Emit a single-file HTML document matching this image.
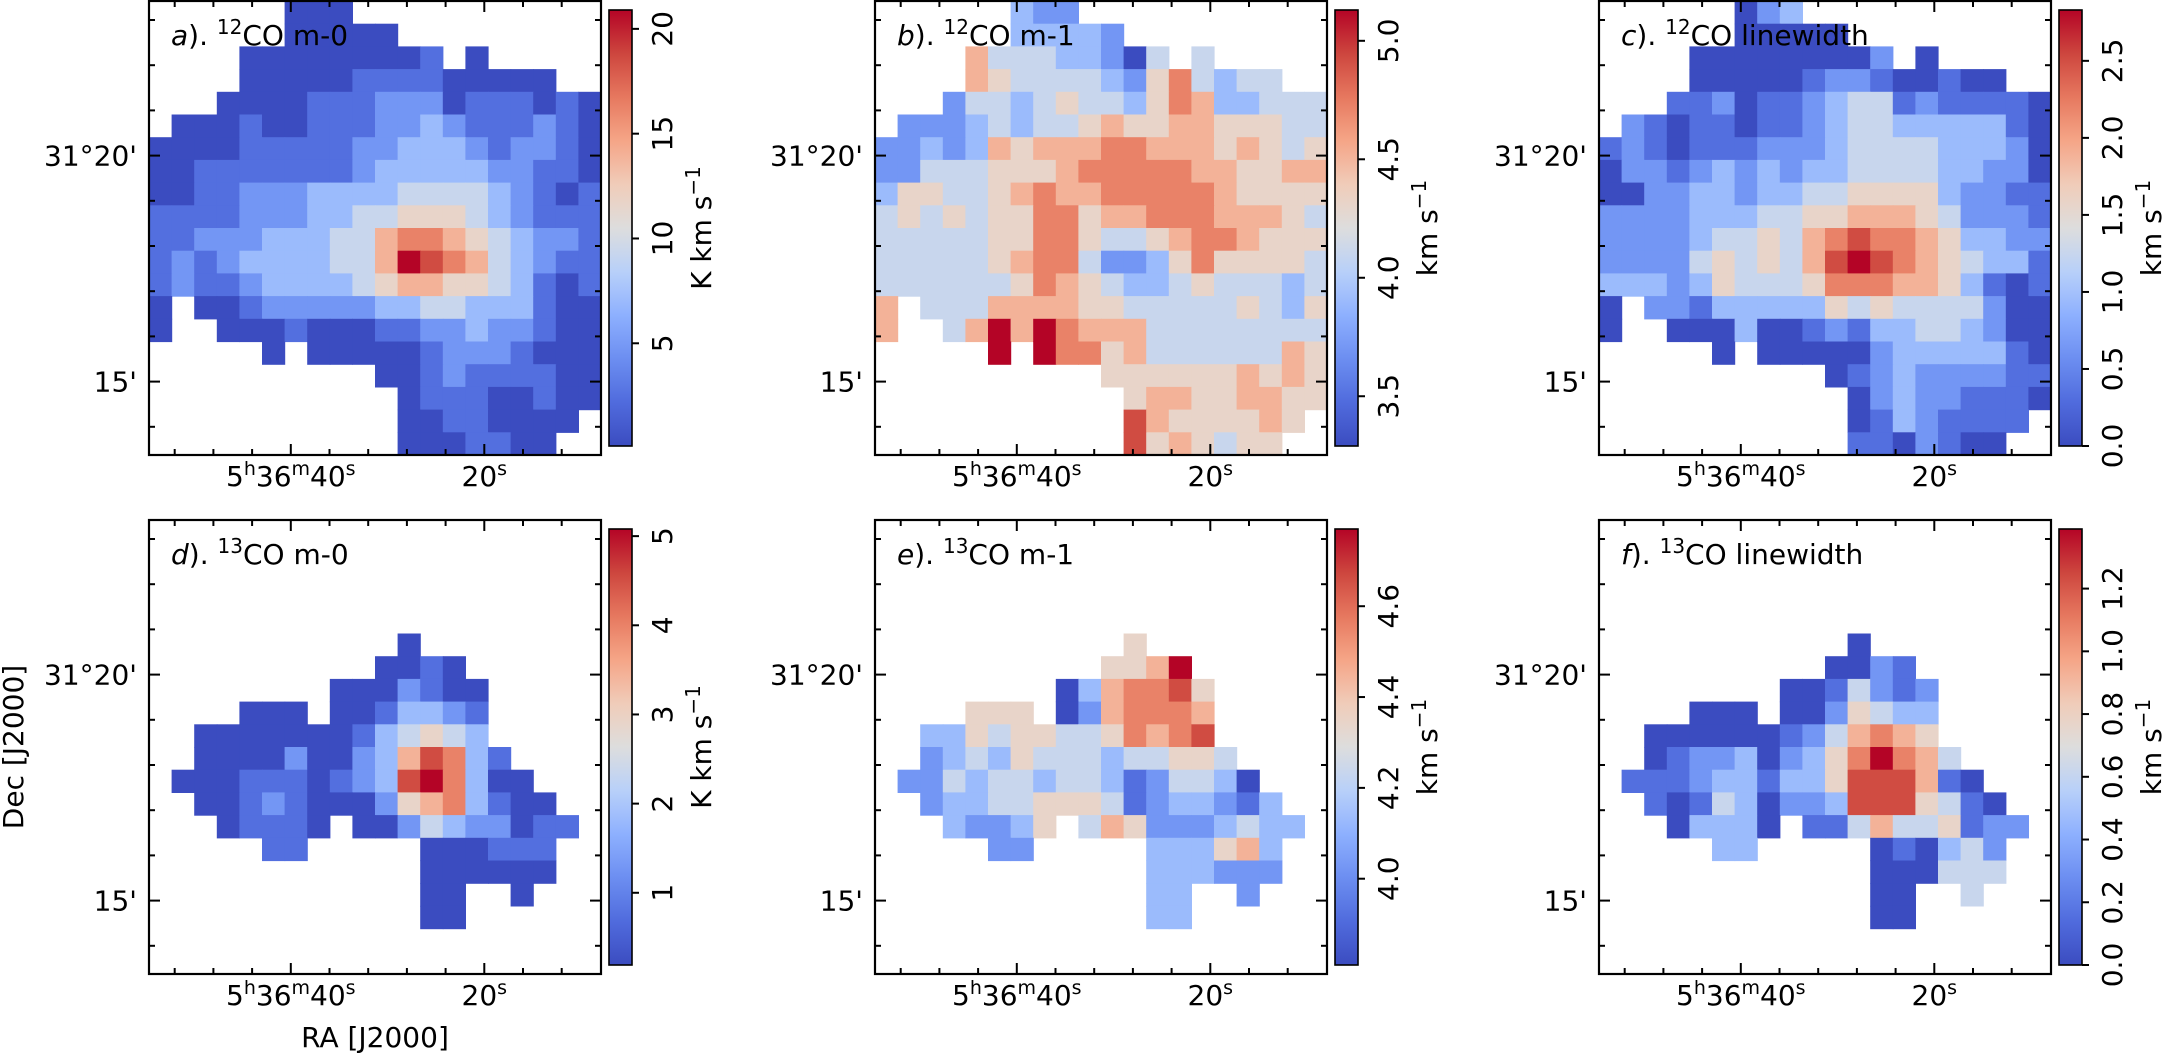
<!DOCTYPE html>
<html><head><meta charset="utf-8"><style>
html,body{margin:0;padding:0;background:#fff;}
svg{display:block;font-family:"DejaVu Sans","Liberation Sans",sans-serif;}
</style></head><body>
<svg id="fig" width="2167" height="1055" viewBox="0 0 2167 1055" xmlns="http://www.w3.org/2000/svg"></svg>
<script>
// ---- data (digit levels 0-9 of colour range, '.' = no data) ----
const mapA = ["......000...........","......00000.........","....000000001.0.....","....00000111100000..","...00001112220111010",".0001001112232111210","00001111122333212210","00111111123333322110","00112223333444432101","11112223344555432111","11222333446776543221","12123333446987643211","12112333345665543101","0.001222223344333100","0..00010001122322100",".....0.0000012221000","..........0012111100","...........011100100","...........00110000.","...........0001100.."];
const mapB = ["......322...........","......33332.........","....644433204.4.....","....65444432574344..","...24434544357633444",".2223434456556655544","22323656667766656545","22444555677777665566","35544567667777765555","45454557756677766654","44444557754456776555","44444567742235755554","44444457654334544434","6.444666655444445435","6..46969766644444444",".....9.9775644444465","..........5555556565","...........566556655","...........86555565.","...........8565455.."];
const mapC = ["......023...........","......00000.........","....000000002.0.....","....00000122100100..","...11201123441211110",".2101101123443333310","12101112223444433320","02212323233444433220","00223323344555532211","22223334455666542221","22223445467877653322","22224545468987654331","33323544457776653101","0.221333335454444200","0..00030012133443200",".....0.0000023333310","..........0123222211","...........023221110","...........01321111.","...........1102100.."];
const mapD = ["....................","....................","....................","....................","....................","...........0........","..........0010......","........0002100.....","....000.0013321.....","..0000000134543.....","..00002002368731....",".0001110123897300...","..0012100025673100..","...01110.0024322011.",".....11.....000111..","............000000..","............00..0...","............00......","....................","...................."];
const mapE = ["....................","....................","....................","....................","....................","...........5........","..........5569......","........0367785.....","....555.0267776.....","..3354554457678.....","..23435444344554....",".2243443443124430...","..2334455541233213..","...32235.4652223433.",".....22.....333563..","............333222..","............33..2...","............33......","....................","...................."];
const mapF = ["....................","....................","....................","....................","....................","...........0........","..........0021......","........0014212.....","....000.0025433.....","..0000001246765.....","..01223023579764....",".1112331335888610...","..1014302238885410..","...03330.1146445122.",".....33.....010342..","............000444..","............00..4...","............00......","....................","...................."];
// colour ranges
const vminArr = [0.1, 3.29, 0.0, 0.19, 3.81, 0.0];
const vmaxArr = [20.9, 5.13, 2.83, 5.08, 4.77, 1.39];
// colourbar ticks
const ticksA = [5, 10, 15, 20];
const ticksB = [3.5, 4.0, 4.5, 5.0];
const ticksC = [0.0, 0.5, 1.0, 1.5, 2.0, 2.5];
const ticksD = [1, 2, 3, 4, 5];
const ticksE = [4.0, 4.2, 4.4, 4.6];
const ticksF = [0.0, 0.2, 0.4, 0.6, 0.8, 1.0, 1.2];
const tickLabelsA = ["5","10","15","20"];
const tickLabelsB = ["3.5","4.0","4.5","5.0"];
const tickLabelsC = ["0.0","0.5","1.0","1.5","2.0","2.5"];
const tickLabelsD = ["1","2","3","4","5"];
const tickLabelsE = ["4.0","4.2","4.4","4.6"];
const tickLabelsF = ["0.0","0.2","0.4","0.6","0.8","1.0","1.2"];
const panelLetters = ["a","b","c","d","e","f"];
const panelIso = ["12","12","12","13","13","13"];
const panelNames = ["CO m-0","CO m-1","CO linewidth","CO m-0","CO m-1","CO linewidth"];
const units = ["K km s","km s","km s","K km s","km s","km s"];

const NS = "http://www.w3.org/2000/svg";
const svg = document.getElementById('fig');
function el(tag, attrs, parent){ const e=document.createElementNS(NS,tag); for(const k in attrs) e.setAttribute(k,attrs[k]); (parent||svg).appendChild(e); return e; }

const cmStops = [[0,[59,76,192]],[0.1,[80,107,221]],[0.2,[108,142,241]],[0.3,[141,176,254]],[0.4,[184,208,249]],[0.5,[221,221,221]],[0.6,[240,204,185]],[0.7,[245,165,135]],[0.8,[230,120,95]],[0.9,[205,70,62]],[1,[180,4,38]]];
function cmap(t){ t=Math.max(0,Math.min(1,t)); for(let i=1;i<cmStops.length;i++){ if(t<=cmStops[i][0]){ const a=cmStops[i-1],b=cmStops[i]; const f=(t-a[0])/(b[0]-a[0]); const c=a[1].map((v,j)=>Math.round(v+(b[1][j]-v)*f)); return `rgb(${c[0]},${c[1]},${c[2]})`; } } return 'rgb(180,4,38)'; }

const defs = el('defs',{});
const grad = el('linearGradient',{id:'cw',x1:'0',y1:'1',x2:'0',y2:'0'},defs);
for(let i=0;i<=20;i++){ el('stop',{offset:(i/20),'stop-color':cmap(i/20)},grad); }

const maps=[mapA,mapB,mapC,mapD,mapE,mapF];
const ticksAll=[ticksA,ticksB,ticksC,ticksD,ticksE,ticksF];
const tlabAll=[tickLabelsA,tickLabelsB,tickLabelsC,tickLabelsD,tickLabelsE,tickLabelsF];
const PX=[149,875,1599], PY=[1,520], PW=452, PH=454;
const cbX=[609,1335,2059], cbY=[10,529], cbW=23, cbH=436;

for(let p=0;p<6;p++){
  const col=p%3,row=Math.floor(p/3);
  const x0=PX[col], y0=PY[row];
  const g=el('g',{});
  
  
  const vmin=vminArr[p], vmax=vmaxArr[p];
  const m=maps[p], nr=m.length, nc=m[0].length;
  const cw=PW/nc, ch=PH/nr;
  for(let r=0;r<nr;r++) for(let c=0;c<nc;c++){
    const chh=m[r][c]; if(chh==='.') continue;
    const v=vmin+(+chh)/9*(vmax-vmin);
    const rc=el('rect',{x:(x0+c*cw).toFixed(2),y:(y0+r*ch).toFixed(2),width:(cw+0.6).toFixed(2),height:(ch+0.6).toFixed(2),fill:cmap((v-vmin)/(vmax-vmin))},g);
    
    
  }
  // frame
  const fr=el('rect',{x:x0,y:y0,width:PW,height:PH,fill:'none',stroke:'#000','stroke-width':2.2},g);
  
  
  // x ticks (in)
  for(let i=0;i<11;i++){
    const tx=x0+25.7+i*38.7; const L=(i===3||i===8)?11:6;
    el('line',{x1:tx,y1:y0+PH,x2:tx,y2:y0+PH-L,stroke:'#000','stroke-width':2},g);
    el('line',{x1:tx,y1:y0,x2:tx,y2:y0+L,stroke:'#000','stroke-width':2},g);
  }
  for(let i=0;i<10;i++){
    const ty=y0+19+i*45.2; const L=(i===3||i===8)?11:6;
    el('line',{x1:x0,y1:ty,x2:x0+L,y2:ty,stroke:'#000','stroke-width':2},g);
    el('line',{x1:x0+PW,y1:ty,x2:x0+PW-L,y2:ty,stroke:'#000','stroke-width':2},g);
  }
  // y tick labels
  const yl1=el('text',{x:x0-12,y:y0+19+3*45.2+10,'font-size':28,'text-anchor':'end'},g);
  yl1.textContent="31°20'";
  
  
  const yl2=el('text',{x:x0-12,y:y0+19+8*45.2+10,'font-size':28,'text-anchor':'end'},g);
  yl2.textContent="15'";
  
  
  // x tick labels
  const xt1=x0+25.7+3*38.7, xt2=x0+25.7+8*38.7, xb=y0+PH+31;
  const xl1=el('text',{x:xt1,y:xb,'font-size':28,'text-anchor':'middle'},g);
  xl1.innerHTML='5<tspan font-size="19" dy="-11">h</tspan><tspan dy="11">36</tspan><tspan font-size="19" dy="-11">m</tspan><tspan dy="11">40</tspan><tspan font-size="19" dy="-11">s</tspan>';
  
  
  const xl2=el('text',{x:xt2,y:xb,'font-size':28,'text-anchor':'middle'},g);
  xl2.innerHTML='20<tspan font-size="19" dy="-11">s</tspan>';
  
  
  // title
  const tt=el('text',{x:x0+22,y:y0+44,'font-size':28},g);
  tt.innerHTML='<tspan font-style="italic">'+panelLetters[p]+'</tspan>). <tspan font-size="20" dy="-11">'+panelIso[p]+'</tspan><tspan dy="11">'+panelNames[p]+'</tspan>';
  
  
  // colorbar
  const bx=cbX[col], by=cbY[row];
  const cb=el('g',{});
  
  
  el('rect',{x:bx,y:by,width:cbW,height:cbH,fill:'url(#cw)',stroke:'#000','stroke-width':1.6},cb);
  const tks=ticksAll[p], tls=tlabAll[p];
  for(let i=0;i<tks.length;i++){
    const ty=by+cbH-(tks[i]-vmin)/(vmax-vmin)*cbH;
    el('line',{x1:bx+cbW,y1:ty,x2:bx+cbW+7,y2:ty,stroke:'#000','stroke-width':2},cb);
    const tl=el('text',{x:0,y:0,'font-size':28,'text-anchor':'middle',transform:`translate(${bx+cbW+40},${ty}) rotate(-90)`},cb);
    tl.textContent=tls[i];
    
    
  }
  const ul=el('text',{x:0,y:0,'font-size':28,'text-anchor':'middle',transform:`translate(${bx+cbW+79},${by+cbH/2}) rotate(-90)`},cb);
  ul.innerHTML=units[p]+'<tspan font-size="20" dy="-11">−1</tspan>';
  
  
}
const ra=el('text',{x:375,y:1047,'font-size':28,'text-anchor':'middle'});
ra.textContent='RA [J2000]';


const dec=el('text',{x:0,y:0,'font-size':28,'text-anchor':'middle',transform:'translate(23,747) rotate(-90)'});
dec.textContent='Dec [J2000]';


</script>
</body></html>
